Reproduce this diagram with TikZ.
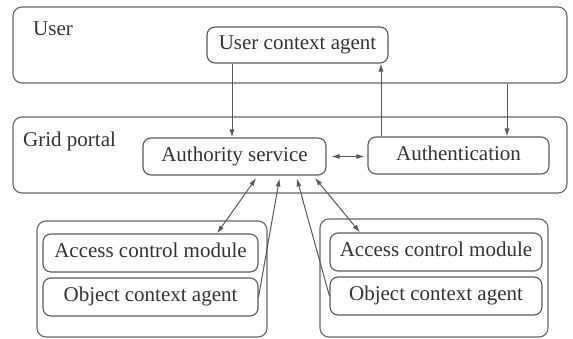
\documentclass[tikz,border=0pt]{standalone}
\usepackage{fontspec}
\setmainfont{Liberation Serif}
\usetikzlibrary{arrows.meta,calc}
\begin{document}
\begin{tikzpicture}[x=1pt,y=-1pt,
  every node/.style={font=\fontsize{21}{25}\selectfont, text=black!80},
  frame/.style={draw=black!60, line width=1.1pt, rounded corners=9pt, inner sep=0pt},
  box/.style={draw=black!65, line width=1.1pt, rounded corners=8pt, inner sep=0pt, text height=14pt, text depth=4.5pt},
  lab/.style={inner sep=0pt, anchor=base west},
  conn/.style={draw=black!65, line width=1pt},
  tip/.style={-{Latex[length=8pt,width=5pt]}},
  dtip/.style={{Latex[length=8pt,width=5pt]}-{Latex[length=8pt,width=5pt]}},
]
\useasboundingbox (0,0) rectangle (573,338);
% frames
\node[frame, minimum width=554pt, minimum height=76pt] (userbox) at (290,45) {};
\node[frame, minimum width=554pt, minimum height=76pt] (gridbox) at (290,155) {};
\node[frame, minimum width=230pt, minimum height=116pt] (leftbox) at (152,279) {};
\node[frame, minimum width=228pt, minimum height=118pt] (rightbox) at (434,278) {};
% labels
\node[lab] (ulab) at (33,35) {User};
\node[lab] (glab) at (23,146) {Grid portal};
% inner boxes
\node[box, minimum width=181pt, minimum height=36pt] (uca) at (297.5,45) {User context agent};
\node[box, minimum width=183pt, minimum height=37pt] (auth) at (234.5,156.5) {Authority service};
\node[box, minimum width=181pt, minimum height=37pt] (authn) at (458.5,155.5) {Authentication};
\node[box, minimum width=215pt, minimum height=38pt] (lacm) at (150.5,253) {Access control module};
\node[box, minimum width=215pt, minimum height=38pt] (loca) at (150.5,297) {Object context agent};
\node[box, minimum width=212pt, minimum height=38pt] (racm) at (436,252) {Access control module};
\node[box, minimum width=212pt, minimum height=38pt] (roca) at (436,296) {Object context agent};
% connectors
\draw[conn,tip] ([xshift=-65.5pt]uca.south) -- ([xshift=-65.5pt]uca.south |- auth.north);
\draw[conn,tip] ([xshift=-77.5pt]authn.north) -- ([xshift=-77.5pt]authn.north |- uca.south);
\draw[conn,tip] ([xshift=217pt]userbox.south) -- ([xshift=217pt]userbox.south |- authn.north);
\draw[conn,dtip,shorten <=5pt,shorten >=3pt] (auth.east) -- (auth.east -| authn.west);
\draw[conn,dtip,shorten <=3pt] ([xshift=23.5pt]auth.south) -- ([xshift=66.5pt]lacm.north);
\draw[conn,tip,shorten >=3pt] (loca.east) -- ([xshift=45.5pt]auth.south);
\draw[conn,tip,shorten >=3pt] (roca.west) -- ([xshift=61.5pt]auth.south);
\draw[conn,dtip,shorten <=3pt] ([xshift=78.5pt]auth.south) -- ([xshift=-76pt]racm.north);
\end{tikzpicture}
\end{document}
